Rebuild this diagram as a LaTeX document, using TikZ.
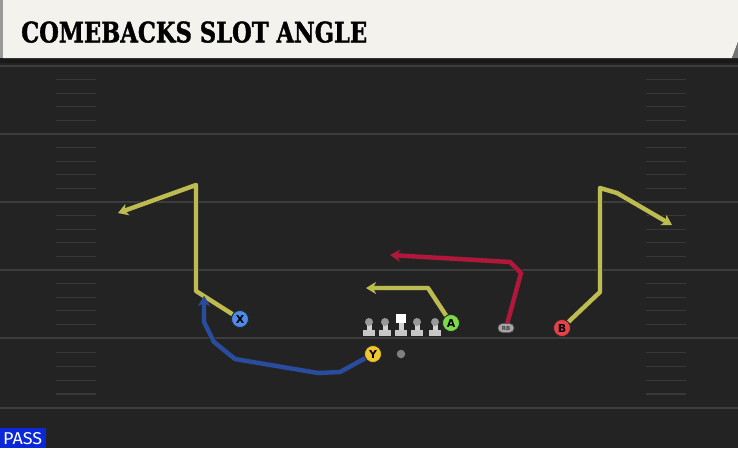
\documentclass[tikz,border=0pt]{standalone}
\usepackage{fontspec}
\setmainfont{DejaVu Sans}
\newfontfamily\titlefont{DejaVu Serif}[BoldFeatures={FakeBold=1.5}]
\newfontfamily\passfont{Fira Sans}
\usetikzlibrary{arrows.meta,shapes.misc}
\definecolor{field}{HTML}{232323}
\definecolor{yardc}{HTML}{3D3D3D}
\definecolor{hashc}{HTML}{383838}
\definecolor{cream}{HTML}{F4F2EC}
\definecolor{ylwroute}{HTML}{BEBC50}
\definecolor{redroute}{HTML}{B2173B}
\definecolor{blueroute}{HTML}{2A4C9E}
\definecolor{xfill}{HTML}{4B8BEA}
\definecolor{yfill}{HTML}{F2C72E}
\definecolor{afill}{HTML}{7DDA48}
\definecolor{bfill}{HTML}{E8414B}
\definecolor{passblue}{HTML}{0A28D8}
\tikzset{
  player/.style={circle, draw=black!85, line width=0.8pt, minimum size=17pt, inner sep=0pt, font=\bfseries\fontsize{11}{11}\selectfont, text=black},
  rbstyle/.style={rounded rectangle, fill=black!35, draw=black!70, line width=0.5pt, minimum width=16pt, minimum height=9pt, inner sep=0pt, font=\bfseries\fontsize{5.5}{5.5}\selectfont, text=black!75},
  route/.style={line width=4.4pt, line join=round, -{Stealth[length=10pt, width=12pt, inset=3pt]},
    preaction={draw=black!85, line width=5.8pt, -{Stealth[length=12pt, width=14.5pt, inset=3.6pt]}}},
  yardline/.style={draw=yardc, line width=1.6pt},
  hashline/.style={draw=hashc, line width=1.3pt},
}
\begin{document}
\begin{tikzpicture}[x=1pt,y=-1pt]
\useasboundingbox (0,0) rectangle (738,448);
% field
\fill[field] (0,0) rectangle (738,448);
% yard lines
\foreach \yy in {66,134,202,270,338,408} \draw[yardline] (0,\yy) -- (738,\yy);
% hash marks
\foreach \yy in {79.6,93.2,106.8,120.4,147.6,161.2,174.8,188.4,215.6,229.2,242.8,256.4,283.6,297.2,310.8,324.4,352.6,366.5,380.3,394} {
  \draw[hashline] (56,\yy) -- (96,\yy);
  \draw[hashline] (646,\yy) -- (686,\yy);
}
% header
\fill[black!90] (0,57) rectangle (738,63);
\fill[black!40] (0,0) rectangle (3,58);
\fill[cream] (3,0) -- (738,0) -- (738,42) -- (732,58) -- (3,58) -- cycle;
\fill[black!55] (738,42) -- (732,58) -- (738,58) -- cycle;
\node[anchor=south west, inner sep=0pt] (title) at (21,43) {\resizebox{346pt}{21pt}{\titlefont\bfseries COMEBACKS SLOT ANGLE}};
% players
\node[player, fill=xfill] (X) at (240,319) {X};
\node[player, fill=yfill] (Y) at (373,354) {Y};
\node[player, fill=afill] (A) at (451,323) {A};
\node[player, fill=bfill] (B) at (562,328) {B};
\node[rbstyle] (RB) at (506,328) {RB};
\node[circle, fill=black!50, minimum size=8.5pt, inner sep=0pt] (ball) at (401,354) {};
% route waypoints
\coordinate (x1) at (196,291); \coordinate (x2) at (196,185); \coordinate (x3) at (118,213);
\coordinate (y1) at (340,372); \coordinate (y2) at (318,373); \coordinate (y3) at (235,359);
\coordinate (y4) at (214,342); \coordinate (y5) at (204,322); \coordinate (y6) at (204,296);
\coordinate (a1) at (428,288); \coordinate (a2) at (366,288);
\coordinate (r1) at (521,273); \coordinate (r2) at (510,262); \coordinate (r3) at (390,255);
\coordinate (b1) at (600,292); \coordinate (b2) at (600,188); \coordinate (b3) at (617,193); \coordinate (b4) at (672,225);
% routes
\draw[route, draw=ylwroute] (X) -- (x1) -- (x2) -- (x3);
\draw[route, draw=blueroute] (Y) -- (y1) -- (y2) -- (y3) -- (y4) -- (y5) -- (y6);
\draw[route, draw=ylwroute] (A) -- (a1) -- (a2);
\draw[route, draw=redroute] (RB) -- (r1) -- (r2) -- (r3);
\draw[route, draw=ylwroute] (B) -- (b1) -- (b2) -- (b3) -- (b4);
% redraw players on top
\node[player, fill=xfill] at (X) {X};
\node[player, fill=yfill] at (Y) {Y};
\node[player, fill=afill] at (A) {A};
\node[player, fill=bfill] at (B) {B};
\node[rbstyle] at (RB) {RB};
% linemen
\foreach \xx in {369,385,417,435} {
  \fill[black!22] (\xx-6,330) rectangle (\xx+6,336);
  \fill[black!18] (\xx-2.5,323) rectangle (\xx+2.5,330);
  \fill[black!40] (\xx,322) circle (4);
}
\fill[black!22] (395,330) rectangle (407,336);
\fill[black!18] (398.5,322) rectangle (403.5,330);
\fill[white] (396,314) rectangle (406,323);
% PASS label
\fill[passblue] (0,428) rectangle (46,448);
\node[anchor=base west, inner sep=0pt, text=white] (pass) at (3,444) {\resizebox{39pt}{12pt}{\passfont PASS}};
\end{tikzpicture}
\end{document}
